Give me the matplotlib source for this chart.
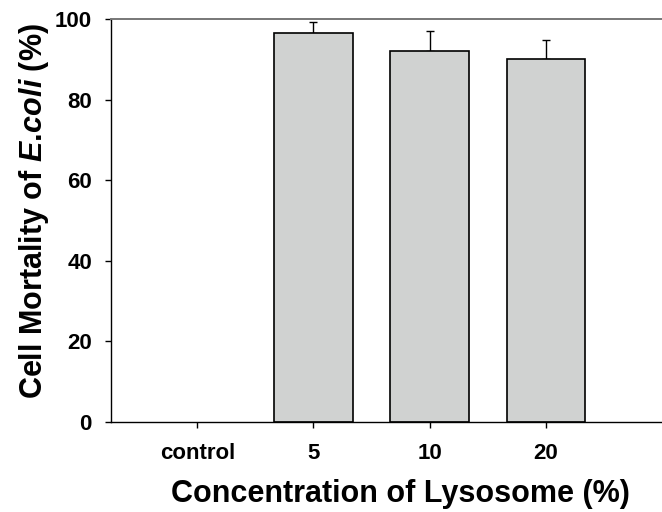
import numpy as np
import matplotlib
matplotlib.use('Agg')
import matplotlib.pyplot as plt

# Data
categories = ['control', '5', '10', '20']
mortality = [0.0, 96.5, 92.1, 90.1]
errors = [0.0, 2.8, 5.0, 4.7]

plt.rcParams['font.family'] = 'Liberation Sans'
plt.rcParams['font.weight'] = 'bold'
plt.rcParams['mathtext.fontset'] = 'custom'
plt.rcParams['mathtext.it'] = 'Liberation Sans:italic:bold'
plt.rcParams['mathtext.rm'] = 'Liberation Sans:bold'

fig = plt.figure(figsize=(6.62, 5.12), dpi=100)
ax = fig.add_axes([111/662, 1-421.7/512, 1-111/662, (421.7-19)/512])

x = np.arange(len(categories))
ax.bar(x[1:], mortality[1:], width=0.677, color='#d0d2d1', edgecolor='black',
       linewidth=1.2, zorder=2)
ax.errorbar(x[1:], mortality[1:], yerr=[np.zeros(3), errors[1:]], fmt='none',
            ecolor='black', elinewidth=1.0, capsize=2.6, capthick=1.0, zorder=1)

ax.set_xlim(-0.743, 4.0)
ax.set_ylim(0, 100)
ax.set_xticks(x)
ax.set_xticklabels(categories)
ax.set_yticks([0, 20, 40, 60, 80, 100])

ax.spines['right'].set_visible(False)
ax.spines['top'].set_color('#777777')
ax.spines['top'].set_linewidth(1.4)
ax.spines['left'].set_linewidth(1.0)
ax.spines['bottom'].set_linewidth(1.0)

ax.tick_params(axis='y', direction='out', length=4.3, width=1.0, pad=9.4, labelsize=16)
ax.tick_params(axis='x', direction='out', length=4.3, width=1.0, pad=11, labelsize=16)

ax.set_xlabel('Concentration of Lysosome (%)', fontsize=22, fontweight='bold')
ax.set_ylabel(r'Cell Mortality of $\mathit{E.\!coli}$ (%)', fontsize=22, fontweight='bold')
ax.xaxis.set_label_coords(0.526, -0.18)
ax.yaxis.set_label_coords(-0.139, 0.524)
ax.xaxis.label.set_va('center')
ax.yaxis.label.set_va('center')

fig.savefig('out.png', dpi=100)
